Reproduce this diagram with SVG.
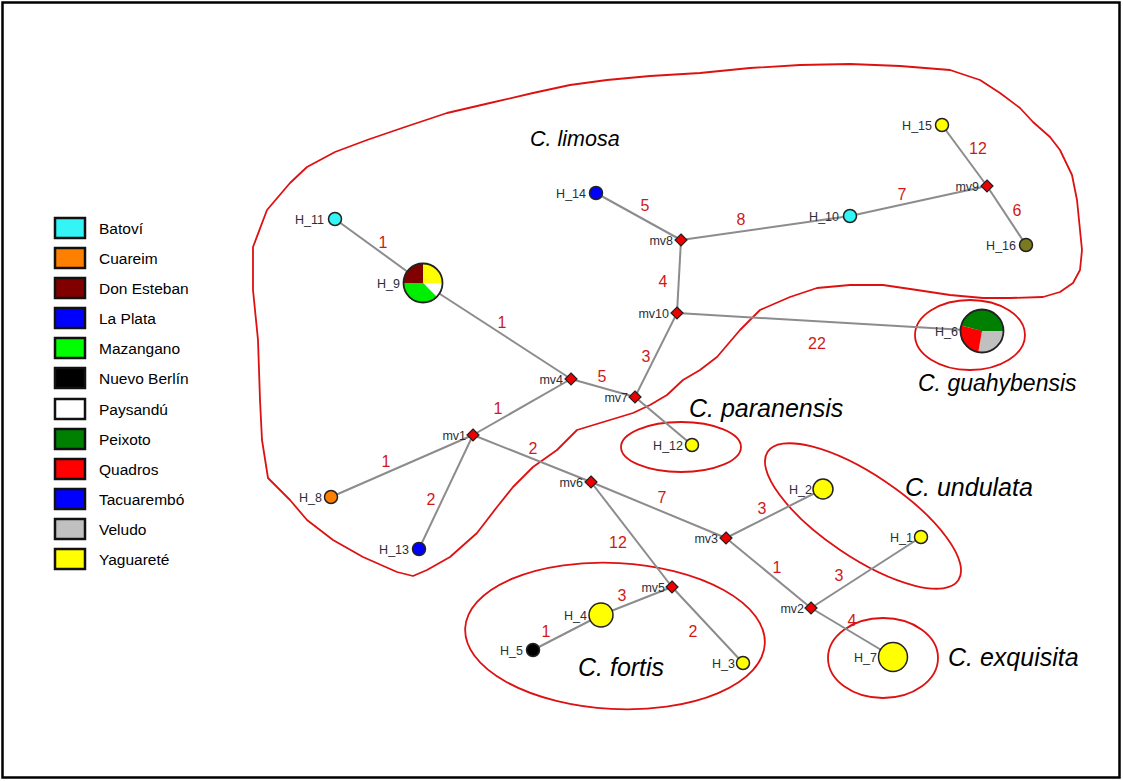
<svg xmlns="http://www.w3.org/2000/svg" width="1123" height="781" viewBox="0 0 1123 781">
<style>
.edge{stroke:#8c8c8c;stroke-width:2;fill:none}
.hap{stroke:#222;stroke-width:1.5}
.mv{fill:#ee0000;stroke:#222;stroke-width:1.2}
.nl{font-family:"Liberation Sans",Arial,sans-serif;font-size:12.5px;fill:#2b2f38;text-anchor:end}
.el{font-family:"Liberation Sans",Arial,sans-serif;font-size:16px;fill:#d01818;text-anchor:middle}
.sp{font-family:"Liberation Sans",Arial,sans-serif;font-style:italic;fill:#000}
.outline{fill:none;stroke:#dd1111;stroke-width:1.8;stroke-linejoin:round}
.lg{stroke:#111;stroke-width:2.5}
.lt{font-family:"Liberation Sans",Arial,sans-serif;font-size:15.5px;fill:#000}
</style>
<defs>
<path id="dm" d="M0,-6 L6,0 L0,6 L-6,0 Z"/>
</defs>
<rect x="0" y="0" width="1123" height="781" fill="#fff"/>
<rect x="2.5" y="2.5" width="1117" height="775" fill="none" stroke="#000" stroke-width="2.5"/>

<g id="legend">
<rect class="lg" x="55" y="218" width="30" height="20" fill="#33f5f5"/><text class="lt" x="99" y="233.5">Batoví</text>
<rect class="lg" x="55" y="248" width="30" height="20" fill="#ff8000"/><text class="lt" x="99" y="263.5">Cuareim</text>
<rect class="lg" x="55" y="278" width="30" height="20" fill="#800000"/><text class="lt" x="99" y="293.5">Don Esteban</text>
<rect class="lg" x="55" y="308" width="30" height="20" fill="#0000ff"/><text class="lt" x="99" y="323.5">La Plata</text>
<rect class="lg" x="55" y="338" width="30" height="20" fill="#00ff00"/><text class="lt" x="99" y="353.5">Mazangano</text>
<rect class="lg" x="55" y="368" width="30" height="20" fill="#000000"/><text class="lt" x="99" y="383.5">Nuevo Berlín</text>
<rect class="lg" x="55" y="399" width="30" height="20" fill="#ffffff"/><text class="lt" x="99" y="414.5">Paysandú</text>
<rect class="lg" x="55" y="429" width="30" height="20" fill="#008000"/><text class="lt" x="99" y="444.5">Peixoto</text>
<rect class="lg" x="55" y="459" width="30" height="20" fill="#ff0000"/><text class="lt" x="99" y="474.5">Quadros</text>
<rect class="lg" x="55" y="489" width="30" height="20" fill="#0000ff"/><text class="lt" x="99" y="504.5">Tacuarembó</text>
<rect class="lg" x="55" y="519" width="30" height="20" fill="#c0c0c0"/><text class="lt" x="99" y="534.5">Veludo</text>
<rect class="lg" x="55" y="549" width="30" height="20" fill="#ffff00"/><text class="lt" x="99" y="564.5">Yaguareté</text>
</g>

<g id="groups">
<path class="outline" d="M290,500 L268,478 L262,440 L260,400 L258,340 L253,290 L253,247 L267,210 L290,183 L307,167 L335,152 L367,140 L405,127 L447,113 L490,103 L533,93 L570,85 L607,80 L650,76 L700,73 L750,68 L800,65 L850,64 L900,66 L950,70 L980,80 L1000,93 L1020,108 L1033,122 L1050,137 L1060,150 L1072,175 L1077,200 L1082,250 L1080,270 L1073,283 L1060,292 L1043,297 L1010,298 L983,298 L950,295 L917,290 L883,285 L850,285 L817,288 L790,297 L760,310 L740,330 L717,357 L700,370 L683,380 L667,395 L650,405 L633,413 L600,423 L577,430 L557,450 L533,467 L513,487 L497,507 L477,533 L450,557 L427,570 L413,576 L397,572 L363,557 L333,540 L307,520 Z"/>
<ellipse class="outline" cx="681" cy="447" rx="60" ry="25"/>
<ellipse class="outline" cx="970" cy="335" rx="55" ry="35"/>
<ellipse class="outline" cx="863" cy="516" rx="115" ry="41" transform="rotate(34 863 516)"/>
<ellipse class="outline" cx="883" cy="658" rx="55" ry="40"/>
<ellipse class="outline" cx="615" cy="636" rx="150" ry="73" transform="rotate(3 615 636)"/>
</g>

<g id="connectors">
<line class="edge" x1="335" y1="219" x2="423" y2="283"/>
<line class="edge" x1="423" y1="283" x2="571" y2="379"/>
<line class="edge" x1="571" y1="379" x2="635" y2="397"/>
<line class="edge" x1="635" y1="397" x2="677" y2="313"/>
<line class="edge" x1="677" y1="313" x2="681" y2="240"/>
<line class="edge" x1="681" y1="240" x2="596" y2="193"/>
<line class="edge" x1="681" y1="240" x2="850" y2="216"/>
<line class="edge" x1="850" y1="216" x2="987" y2="186"/>
<line class="edge" x1="987" y1="186" x2="942" y2="125"/>
<line class="edge" x1="987" y1="186" x2="1026" y2="245"/>
<line class="edge" x1="677" y1="313" x2="982" y2="331"/>
<line class="edge" x1="635" y1="397" x2="692" y2="445"/>
<line class="edge" x1="571" y1="379" x2="473" y2="435"/>
<line class="edge" x1="473" y1="435" x2="331" y2="497"/>
<line class="edge" x1="473" y1="435" x2="419" y2="549"/>
<line class="edge" x1="473" y1="435" x2="591" y2="482"/>
<line class="edge" x1="591" y1="482" x2="726" y2="538"/>
<line class="edge" x1="591" y1="482" x2="672" y2="587"/>
<line class="edge" x1="672" y1="587" x2="601" y2="615"/>
<line class="edge" x1="601" y1="615" x2="533" y2="650"/>
<line class="edge" x1="672" y1="587" x2="743" y2="663"/>
<line class="edge" x1="726" y1="538" x2="823" y2="489"/>
<line class="edge" x1="726" y1="538" x2="811" y2="608"/>
<line class="edge" x1="811" y1="608" x2="921" y2="537"/>
<line class="edge" x1="811" y1="608" x2="893" y2="657"/>
</g>

<g id="edge-labels">
<text class="el" x="383" y="248">1</text>
<text class="el" x="502" y="328">1</text>
<text class="el" x="602" y="382">5</text>
<text class="el" x="646" y="362">3</text>
<text class="el" x="663" y="287">4</text>
<text class="el" x="645" y="211">5</text>
<text class="el" x="741" y="225">8</text>
<text class="el" x="902" y="200">7</text>
<text class="el" x="978" y="154">12</text>
<text class="el" x="1017" y="216">6</text>
<text class="el" x="817" y="349">22</text>
<text class="el" x="498" y="414">1</text>
<text class="el" x="386" y="467">1</text>
<text class="el" x="431" y="505">2</text>
<text class="el" x="533" y="454">2</text>
<text class="el" x="662" y="503">7</text>
<text class="el" x="618" y="548">12</text>
<text class="el" x="622" y="601">3</text>
<text class="el" x="546" y="637">1</text>
<text class="el" x="693" y="637">2</text>
<text class="el" x="762" y="514">3</text>
<text class="el" x="777" y="573">1</text>
<text class="el" x="839" y="581">3</text>
<text class="el" x="852" y="626">4</text>
</g>

<g id="H_11"><circle class="hap" cx="335" cy="219" r="6.5" fill="#33f5f5"/><text class="nl" x="324" y="224">H_11</text></g>
<g id="H_9">
<path d="M423,283 L442.5,283 A19.5,19.5 0 0 1 436.79,296.79 Z" fill="#ffffff"/>
<path d="M423,283 L436.79,296.79 A19.5,19.5 0 0 1 403.5,283 Z" fill="#00ee00"/>
<path d="M423,283 L403.5,283 A19.5,19.5 0 0 1 423,263.5 Z" fill="#800000"/>
<path d="M423,283 L423,263.5 A19.5,19.5 0 0 1 442.5,283 Z" fill="#ffff00"/>
<circle cx="423" cy="283" r="19.5" fill="none" stroke="#222" stroke-width="1.8"/>
<text class="nl" x="400" y="288">H_9</text></g>
<g id="H_14"><circle class="hap" cx="596" cy="193" r="6.5" fill="#0000ff"/><text class="nl" x="586" y="198">H_14</text></g>
<g id="H_10"><circle class="hap" cx="850" cy="216" r="6.5" fill="#33f5f5"/><text class="nl" x="839" y="221">H_10</text></g>
<g id="H_15"><circle class="hap" cx="942" cy="125" r="6.5" fill="#ffff00"/><text class="nl" x="932" y="130">H_15</text></g>
<g id="H_16"><circle class="hap" cx="1026" cy="245" r="6.5" fill="#7a7a20"/><text class="nl" x="1016" y="250">H_16</text></g>
<g id="H_6">
<path d="M982,331 L1003.5,331 A21.5,21.5 0 0 1 978.27,352.17 Z" fill="#c0c0c0"/>
<path d="M982,331 L978.27,352.17 A21.5,21.5 0 0 1 961.23,325.44 Z" fill="#ff0000"/>
<path d="M982,331 L961.23,325.44 A21.5,21.5 0 0 1 1003.5,331 Z" fill="#008000"/>
<circle cx="982" cy="331" r="21.5" fill="none" stroke="#222" stroke-width="1.8"/>
<text class="nl" x="958" y="336">H_6</text></g>
<g id="H_12"><circle class="hap" cx="692" cy="445" r="6.5" fill="#ffff00"/><text class="nl" x="683" y="450">H_12</text></g>
<g id="H_8"><circle class="hap" cx="331" cy="497" r="6.5" fill="#ff8000"/><text class="nl" x="322" y="502">H_8</text></g>
<g id="H_13"><circle class="hap" cx="419" cy="549" r="6.5" fill="#0000ff"/><text class="nl" x="409" y="554">H_13</text></g>
<g id="H_2"><circle class="hap" cx="823" cy="489" r="10" fill="#ffff00"/><text class="nl" x="812" y="494">H_2</text></g>
<g id="H_1"><circle class="hap" cx="921" cy="537" r="6.5" fill="#ffff00"/><text class="nl" x="913" y="542">H_1</text></g>
<g id="H_7"><circle class="hap" cx="893" cy="657" r="14.5" fill="#ffff00"/><text class="nl" x="877" y="662">H_7</text></g>
<g id="H_4"><circle class="hap" cx="601" cy="615" r="12" fill="#ffff00"/><text class="nl" x="587" y="620">H_4</text></g>
<g id="H_5"><circle class="hap" cx="533" cy="650" r="6.5" fill="#000000"/><text class="nl" x="523" y="655">H_5</text></g>
<g id="H_3"><circle class="hap" cx="743" cy="663" r="6.5" fill="#ffff00"/><text class="nl" x="735" y="668">H_3</text></g>

<g id="mv4"><use href="#dm" class="mv" x="571" y="379"/><text class="nl" x="563" y="384">mv4</text></g>
<g id="mv7"><use href="#dm" class="mv" x="635" y="397"/><text class="nl" x="628" y="402">mv7</text></g>
<g id="mv10"><use href="#dm" class="mv" x="677" y="313"/><text class="nl" x="669" y="318">mv10</text></g>
<g id="mv8"><use href="#dm" class="mv" x="681" y="240"/><text class="nl" x="673" y="245">mv8</text></g>
<g id="mv9"><use href="#dm" class="mv" x="987" y="186"/><text class="nl" x="979" y="191">mv9</text></g>
<g id="mv1"><use href="#dm" class="mv" x="473" y="435"/><text class="nl" x="466" y="440">mv1</text></g>
<g id="mv6"><use href="#dm" class="mv" x="591" y="482"/><text class="nl" x="583" y="487">mv6</text></g>
<g id="mv3"><use href="#dm" class="mv" x="726" y="538"/><text class="nl" x="718" y="543">mv3</text></g>
<g id="mv5"><use href="#dm" class="mv" x="672" y="587"/><text class="nl" x="665" y="592">mv5</text></g>
<g id="mv2"><use href="#dm" class="mv" x="811" y="608"/><text class="nl" x="804" y="613">mv2</text></g>

<g id="species">
<text class="sp" x="530" y="146" font-size="21.5">C. limosa</text>
<text class="sp" x="689" y="417" font-size="25">C. paranensis</text>
<text class="sp" x="918" y="391" font-size="23">C. guahybensis</text>
<text class="sp" x="905" y="496" font-size="25">C. undulata</text>
<text class="sp" x="578" y="676" font-size="25">C. fortis</text>
<text class="sp" x="948" y="666" font-size="25">C. exquisita</text>
</g>
</svg>
